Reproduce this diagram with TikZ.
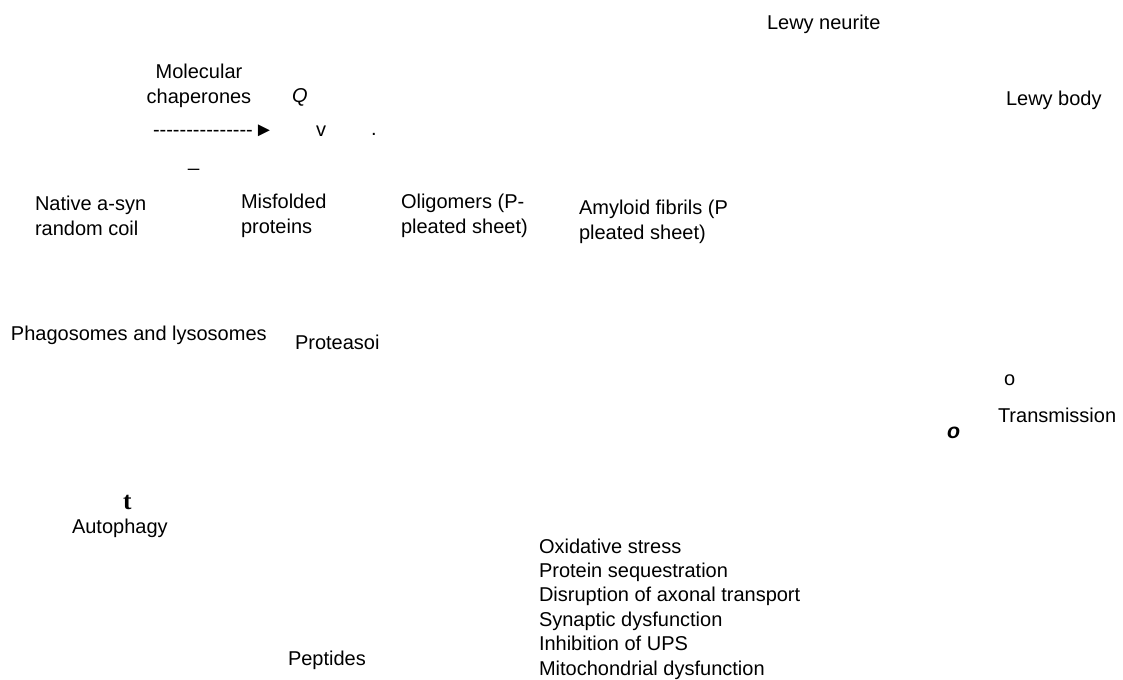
\documentclass[tikz,border=0pt]{standalone}
\usepackage{fontspec}
\setmainfont{Liberation Sans}
\newfontfamily\plainsans{Liberation Sans}
\newfontfamily\serifbold{Liberation Serif}
\begin{document}
\begin{tikzpicture}[x=0.75pt,y=-0.75pt,
  lbl/.style={inner sep=0pt,outer sep=0pt,font=\fontsize{15}{18.6}\selectfont},
  lbll/.style={lbl,align=left},
  lblc/.style={lbl,align=center}]
\useasboundingbox (0,0) rectangle (1123,679);
\node[lbl,anchor=west] (lneurite) at (767,24) {Lewy neurite};
\node[lbl,anchor=west] (lbody) at (1006,100) {Lewy body};
\node[lblc,anchor=center] (chap) at (199,86) {Molecular\\chaperones};
\node[lbl,anchor=west,font=\fontsize{15}{18.6}\selectfont\itshape] (q) at (292,97) {Q};
\node[lbl,anchor=west,font=\fontsize{15}{18.6}\plainsans] (arrowtxt) at (153,131) {---------------\kern1pt►};
\node[lbl,anchor=west] (v) at (316,131) {v};
\node[lbl,anchor=base west] (dot) at (371,135) {.};
\node[lbl,anchor=base west] (us) at (188,166) {\_};
\node[lbll,anchor=west] (native) at (35,216) {Native a-syn\\random coil};
\node[lbll,anchor=west] (misf) at (241,216) {Misfolded\\proteins};
\node[lbll,anchor=west] (olig) at (401,216) {Oligomers (P-\\pleated sheet)};
\node[lbll,anchor=west] (amy) at (579,222) {Amyloid fibrils (P\\pleated sheet)};
\node[lbl,anchor=west] (phago) at (11,335) {Phagosomes and lysosomes};
\node[lbl,anchor=west] (prot) at (295,342) {Proteasoi};
\node[lbl,anchor=west] (o1) at (1004,380) {o};
\node[lbl,anchor=west] (trans) at (998,415) {Transmission};
\node[lbl,anchor=west,font=\fontsize{16}{19}\selectfont\bfseries\itshape] (o2) at (947,433) {o};
\node[lbl,anchor=west,font=\fontsize{19}{22}\serifbold\bfseries] (t) at (123,502) {t};
\node[lbl,anchor=west] (auto) at (72,528) {Autophagy};
\node[lbll,anchor=west,font=\fontsize{15}{18.3}\selectfont] (list) at (539,609) {Oxidative stress\\Protein sequestration\\Disruption of axonal transport\\Synaptic dysfunction\\Inhibition of UPS\\Mitochondrial dysfunction};
\node[lbl,anchor=west] (pept) at (288,660) {Peptides};
\end{tikzpicture}
\end{document}
